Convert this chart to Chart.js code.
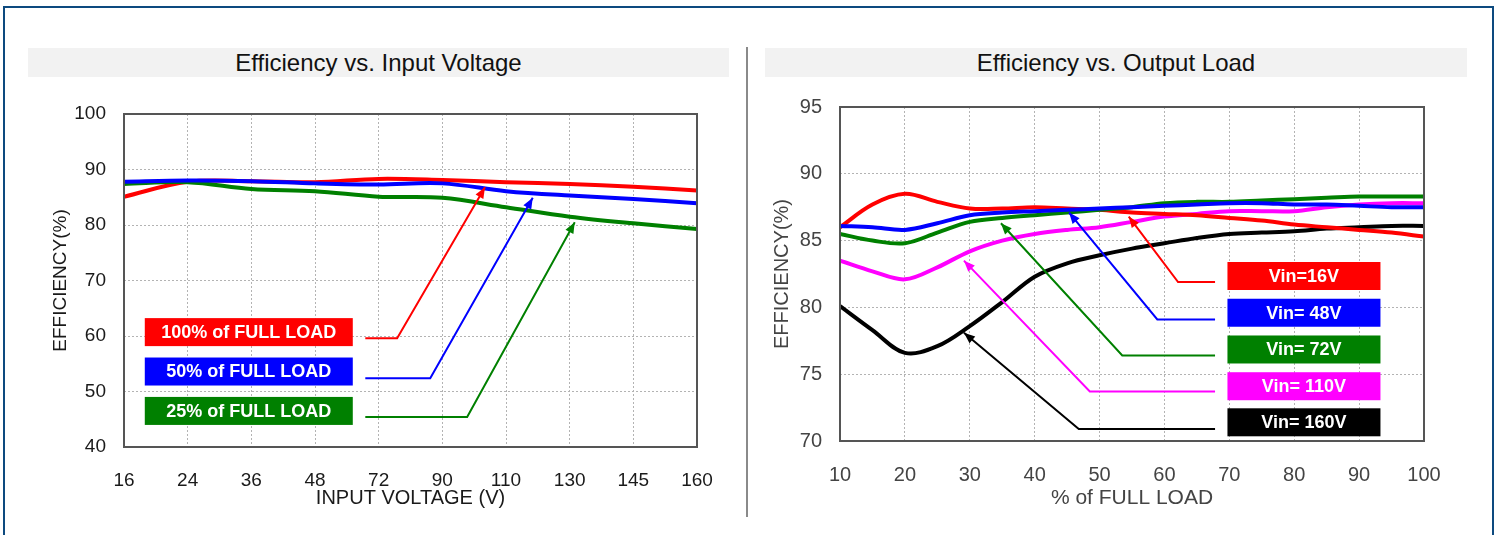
<!DOCTYPE html>
<html>
<head>
<meta charset="utf-8">
<script src="https://cdn.jsdelivr.net/npm/chart.js@4.4.0/dist/chart.umd.min.js"></script>
<style>
  html, body { margin:0; padding:0; background:#fff; width:1499px; height:535px; overflow:hidden;
    font-family:"Liberation Sans", Arial, sans-serif; }
  .frame { position:absolute; left:3px; top:6px; width:1487px; height:560px; border:2px solid #0d4a7f; }
  .band { position:absolute; top:48px; height:29px; background:#f2f2f2; font-size:24px;
    line-height:29px; text-align:center; color:#111; }
  .sep { position:absolute; left:746px; top:47px; width:2px; height:470px; background:#8a8a8a; }
  .wrap { position:absolute; }
  .wrap canvas { display:block; }
</style>
</head>
<body>
<div class="frame"></div>
<div class="band" style="left:28px;width:701px;">Efficiency vs. Input Voltage</div>
<div class="band" style="left:765px;width:702px;">Efficiency vs. Output Load</div>
<div class="sep"></div>
<div class="wrap" style="left:20px;top:95px;"><canvas id="chart-vin" width="720" height="425"></canvas></div>
<div class="wrap" style="left:760px;top:90px;"><canvas id="chart-load" width="700" height="430"></canvas></div>
<script>
// --- left chart: efficiency vs input voltage ---
const voltLabels = ['16', '24', '36', '48', '72', '90', '110', '130', '145', '160'];
const eff100 = [85.1, 87.8, 87.9, 87.7, 88.3, 88.1, 87.7, 87.4, 86.9, 86.2];
const eff50  = [87.8, 88.0, 87.9, 87.5, 87.3, 87.5, 86.1, 85.3, 84.7, 83.9];
const eff25  = [87.4, 87.7, 86.5, 86.1, 85.1, 84.9, 83.2, 81.5, 80.3, 79.3];
const vinNames = ['100% of FULL LOAD', '50% of FULL LOAD', '25% of FULL LOAD'];
// callout paths in data units: [category index, efficiency]
const vinCalloutPaths = [
  [[3.79, 59.6], [4.29, 59.6], [5.67, 86.8]],
  [[3.79, 52.4], [4.81, 52.4], [6.42, 84.9]],
  [[3.79, 45.4], [5.39, 45.4], [7.08, 80.5]]
];
const vinLabelPos = [[1.96, 60.7], [1.96, 53.6], [1.96, 46.5]];

// --- right chart: efficiency vs output load ---
const loadPct = [10, 15, 20, 25, 30, 35, 40, 45, 50, 55, 60, 65, 70, 75, 80, 85, 90, 95, 100];
const vin16  = [86.0, 87.7, 88.5, 87.9, 87.4, 87.4, 87.5, 87.4, 87.3, 87.1, 87.0, 86.9, 86.7, 86.5, 86.2, 86.0, 85.8, 85.6, 85.3];
const vin48  = [86.1, 86.0, 85.8, 86.3, 86.9, 87.1, 87.2, 87.3, 87.4, 87.5, 87.6, 87.7, 87.8, 87.8, 87.7, 87.7, 87.6, 87.5, 87.5];
const vin72  = [85.5, 85.0, 84.8, 85.6, 86.4, 86.7, 86.9, 87.1, 87.3, 87.5, 87.8, 87.9, 87.9, 88.0, 88.1, 88.2, 88.3, 88.3, 88.3];
const vin110 = [83.5, 82.7, 82.1, 83.0, 84.2, 85.0, 85.5, 85.8, 86.0, 86.4, 86.8, 87.0, 87.2, 87.2, 87.2, 87.5, 87.7, 87.8, 87.8];
const vin160 = [80.1, 78.3, 76.6, 77.1, 78.6, 80.4, 82.3, 83.3, 83.9, 84.4, 84.8, 85.2, 85.5, 85.6, 85.7, 85.9, 86.0, 86.1, 86.1];
const loadNames = ['Vin=16V', 'Vin= 48V', 'Vin= 72V', 'Vin= 110V', 'Vin= 160V'];
const loadCalloutPaths = [
  [[67.8, 81.9], [62.1, 81.9], [54.5, 86.8]],
  [[67.8, 79.1], [58.9, 79.1], [45.3, 87.1]],
  [[67.8, 76.4], [53.5, 76.4], [34.8, 86.3]],
  [[67.8, 73.7], [48.5, 73.7], [29.1, 83.5]],
  [[67.8, 70.9], [46.8, 70.9], [29.1, 78.1]]
];
const loadLabelPos = [[81.5, 82.35], [81.5, 79.6], [81.5, 76.85], [81.5, 74.1], [81.5, 71.4]];

const FONT = '"Liberation Sans", Arial, sans-serif';
const RED = '#ff0000', BLUE = '#0000ff', GREEN = '#008000', MAGENTA = '#ff00ff', BLACK = '#000000';

// frame round the plot area
const framePlugin = {
  id: 'frame',
  afterDraw(chart) {
    const { ctx, chartArea: a } = chart;
    ctx.save();
    ctx.strokeStyle = '#555';
    ctx.lineWidth = 2;
    ctx.strokeRect(a.left, a.top, a.right - a.left, a.bottom - a.top);
    ctx.restore();
  }
};

// leader lines with arrow heads and coloured label boxes
const calloutPlugin = {
  id: 'callouts',
  afterDatasetsDraw(chart, args, opts) {
    const { ctx, scales: { x, y } } = chart;
    ctx.save();
    opts.items.forEach(item => {
      const pts = item.path.map(p => [x.getPixelForValue(p[0]), y.getPixelForValue(p[1])]);
      ctx.strokeStyle = item.color;
      ctx.fillStyle = item.color;
      ctx.lineWidth = opts.lineWidth;
      ctx.beginPath();
      pts.forEach((p, i) => i ? ctx.lineTo(p[0], p[1]) : ctx.moveTo(p[0], p[1]));
      ctx.stroke();
      const [x1, y1] = pts[pts.length - 2];
      const [x2, y2] = pts[pts.length - 1];
      const a = Math.atan2(y2 - y1, x2 - x1);
      const L = 11, W = 4.5;
      ctx.beginPath();
      ctx.moveTo(x2, y2);
      ctx.lineTo(x2 - L * Math.cos(a) + W * Math.sin(a), y2 - L * Math.sin(a) - W * Math.cos(a));
      ctx.lineTo(x2 - L * Math.cos(a) - W * Math.sin(a), y2 - L * Math.sin(a) + W * Math.cos(a));
      ctx.closePath();
      ctx.fill();
      const bx = x.getPixelForValue(item.label[0]);
      const by = y.getPixelForValue(item.label[1]);
      ctx.fillRect(bx - opts.boxW / 2, by - opts.boxH / 2, opts.boxW, opts.boxH);
      ctx.fillStyle = '#fff';
      ctx.font = 'bold 18px ' + FONT;
      ctx.textAlign = 'center';
      ctx.textBaseline = 'middle';
      ctx.fillText(item.text, bx, by + 1);
    });
    ctx.restore();
  }
};

function line(label, xs, ys, color, order) {
  return {
    label: label,
    data: xs.map((v, i) => ({ x: v, y: ys[i] })),
    borderColor: color,
    backgroundColor: color,
    borderWidth: 4,
    pointRadius: 0,
    tension: 0.35,
    order: order
  };
}

function callouts(paths, pos, names, colors) {
  return paths.map((p, i) => ({ path: p, label: pos[i], text: names[i], color: colors[i] }));
}

// fixed axis boxes so the plot area lands where the picture has it
function fixY(w) {
  return s => { s.width = w; s.paddingTop = 0; s.paddingBottom = 0; };
}
function fixX(h) {
  return s => { s.height = h; s.paddingLeft = 0; s.paddingRight = 0; };
}

const gridStyle = { color: '#b3b3b3', lineWidth: 1, drawTicks: false };
const borderStyle = { display: false, dash: [2, 2] };

// left
const idx = voltLabels.map((v, i) => i);
new Chart(document.getElementById('chart-vin'), {
  type: 'line',
  data: {
    datasets: [
      line(vinNames[0], idx, eff100, RED, 2),
      line(vinNames[1], idx, eff50, BLUE, 0),
      line(vinNames[2], idx, eff25, GREEN, 1)
    ]
  },
  options: {
    responsive: false,
    animation: false,
    events: [],
    layout: { padding: { left: 0, top: 19, right: 43, bottom: 0 } },
    plugins: {
      legend: { display: false },
      tooltip: { enabled: false },
      callouts: {
        lineWidth: 2, boxW: 208, boxH: 28,
        items: callouts(vinCalloutPaths, vinLabelPos, vinNames, [RED, BLUE, GREEN])
      }
    },
    scales: {
      x: {
        type: 'linear', min: 0, max: 9,
        grid: gridStyle, border: borderStyle,
        ticks: { stepSize: 1, autoSkip: false, maxRotation: 0, padding: 22, color: '#1a1a1a',
          font: { family: FONT, size: 19 }, callback: v => voltLabels[v] },
        title: { display: true, text: 'INPUT VOLTAGE (V)', color: '#1a1a1a',
          font: { family: FONT, size: 20 }, padding: { top: 0, bottom: 10 } },
        afterFit: fixX(73)
      },
      y: {
        min: 40, max: 100,
        grid: gridStyle, border: borderStyle,
        ticks: { stepSize: 10, padding: 18, color: '#1a1a1a', font: { family: FONT, size: 19 } },
        title: { display: true, text: 'EFFICIENCY(%)', color: '#1a1a1a',
          font: { family: FONT, size: 19 }, padding: { top: 29, bottom: 0 } },
        afterFit: fixY(104)
      }
    }
  },
  plugins: [calloutPlugin, framePlugin]
});

// right
new Chart(document.getElementById('chart-load'), {
  type: 'line',
  data: {
    datasets: [
      line(loadNames[0], loadPct, vin16, RED, 2),
      line(loadNames[1], loadPct, vin48, BLUE, 0),
      line(loadNames[2], loadPct, vin72, GREEN, 1),
      line(loadNames[3], loadPct, vin110, MAGENTA, 3),
      line(loadNames[4], loadPct, vin160, BLACK, 4)
    ]
  },
  options: {
    responsive: false,
    animation: false,
    events: [],
    layout: { padding: { left: 0, top: 17, right: 36, bottom: 0 } },
    plugins: {
      legend: { display: false },
      tooltip: { enabled: false },
      callouts: {
        lineWidth: 2, boxW: 153, boxH: 28,
        items: callouts(loadCalloutPaths, loadLabelPos, loadNames, [RED, BLUE, GREEN, MAGENTA, BLACK])
      }
    },
    scales: {
      x: {
        type: 'linear', min: 10, max: 100,
        grid: gridStyle, border: borderStyle,
        ticks: { stepSize: 10, maxRotation: 0, padding: 22, color: '#444',
          font: { family: FONT, size: 20 } },
        title: { display: true, text: '% of FULL LOAD', color: '#444',
          font: { family: FONT, size: 21 }, padding: { top: 0, bottom: 9 } },
        afterFit: fixX(79)
      },
      y: {
        min: 70, max: 95,
        grid: gridStyle, border: borderStyle,
        ticks: { stepSize: 5, padding: 18, color: '#444', font: { family: FONT, size: 20 } },
        title: { display: true, text: 'EFFICIENCY(%)', color: '#444',
          font: { family: FONT, size: 20 }, padding: { top: 10, bottom: 0 } },
        afterFit: fixY(80)
      }
    }
  },
  plugins: [calloutPlugin, framePlugin]
});
</script>
</body>
</html>
